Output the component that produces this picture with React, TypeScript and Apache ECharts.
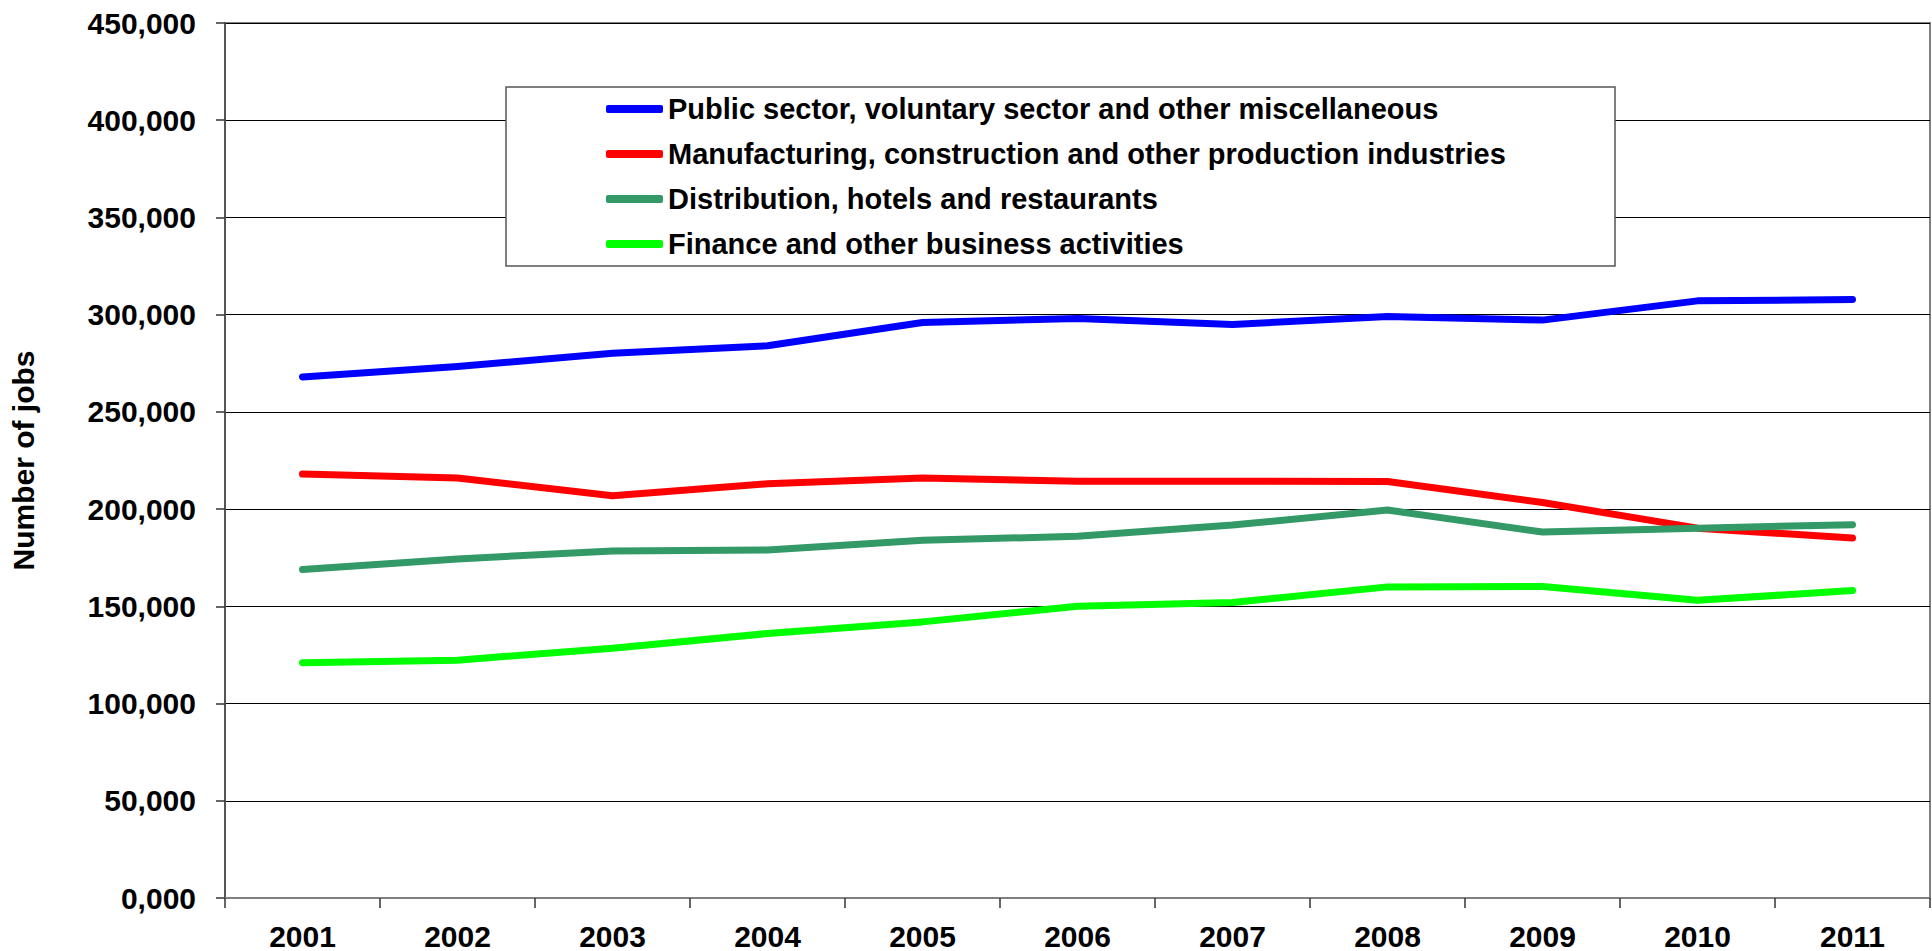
import React, { useEffect, useRef } from "react";
import * as echarts from "echarts";

const years = ["2001", "2002", "2003", "2004", "2005", "2006", "2007", "2008", "2009", "2010", "2011"];
const publicSector = [268000, 273300, 280100, 284000, 296000, 298000, 295000, 299000, 297200, 307100, 307800];
const manufacturing = [218000, 216000, 206900, 213000, 216000, 214300, 214300, 214200, 203400, 190200, 185100];
const distribution = [168900, 174400, 178500, 179000, 184000, 186000, 191800, 199500, 188200, 190200, 192000];
const finance = [121000, 122300, 128500, 136000, 142000, 150000, 152000, 160000, 160200, 153100, 158100];

const seriesNames = [
  "Public sector, voluntary sector and other miscellaneous",
  "Manufacturing, construction and other production industries",
  "Distribution, hotels and restaurants",
  "Finance and other business activities",
];
const seriesColors = ["#0000FF", "#FF0000", "#339966", "#00FF00"];

const FONT = "'Liberation Sans', Arial, sans-serif";

export default function App() {
  const ref = useRef<HTMLDivElement>(null);
  useEffect(() => {
    if (!ref.current) return;
    const chart = echarts.init(ref.current, undefined, { renderer: "svg" });
    const values = [publicSector, manufacturing, distribution, finance];
    chart.setOption({
      animation: false,
      backgroundColor: "#FFFFFF",
      grid: {
        left: 224,
        right: 2,
        top: 23,
        bottom: 53,
        show: true,
        borderColor: "#808080",
        borderWidth: 2,
        backgroundColor: "transparent",
      },
      graphic: [
        {
          type: "rect",
          z: 3,
          shape: { x: 506, y: 87, width: 1109, height: 179 },
          style: { fill: "#FFFFFF", stroke: "#555555", lineWidth: 1.5 },
        },
      ],
      legend: {
        z: 5,
        orient: "vertical",
        left: 606,
        top: 94,
        padding: 0,
        itemWidth: 57,
        itemHeight: 8,
        itemGap: 15,
        itemTextGap: 3,
        icon: "roundRect",
        textStyle: { fontFamily: FONT, fontWeight: "bold", fontSize: 29, color: "#000", lineHeight: 30 },
        data: seriesNames.map((n) => ({ name: n, icon: "roundRect" })),
      },
      xAxis: {
        type: "category",
        data: years,
        boundaryGap: true,
        axisLine: { show: true, lineStyle: { color: "#808080", width: 2 } },
        axisTick: { show: true, length: 10, lineStyle: { color: "#333", width: 1.5 } },
        axisLabel: { fontFamily: FONT, fontWeight: "bold", fontSize: 30, color: "#000", margin: 23 },
        splitLine: { show: false },
      },
      yAxis: {
        type: "value",
        min: 0,
        max: 450000,
        interval: 50000,
        name: "Number of jobs",
        nameLocation: "middle",
        nameRotate: 90,
        nameGap: 187,
        nameTextStyle: { fontFamily: FONT, fontWeight: "bold", fontSize: 30, color: "#000" },
        axisLine: { show: true, lineStyle: { color: "#555555", width: 2 } },
        axisTick: { show: true, length: 9, lineStyle: { color: "#333", width: 1.5 } },
        axisLabel: {
          fontFamily: FONT,
          fontWeight: "bold",
          fontSize: 30,
          color: "#000",
          margin: 29,
          formatter: (v: number) => `${Math.round(v / 1000)},000`,
        },
        splitLine: { show: true, lineStyle: { color: "#000000", width: 1 } },
      },
      series: seriesNames.map((name, i) => ({
        name,
        type: "line",
        data: values[i],
        symbol: "none",
        lineStyle: { color: seriesColors[i], width: 7, cap: "round", join: "round" },
        itemStyle: { color: seriesColors[i] },
        z: 2,
      })),
    });
    return () => chart.dispose();
  }, []);
  return (
    <div
      ref={ref}
      style={{ position: "absolute", left: 0, top: 0, width: 1932, height: 951 }}
    />
  );
}
